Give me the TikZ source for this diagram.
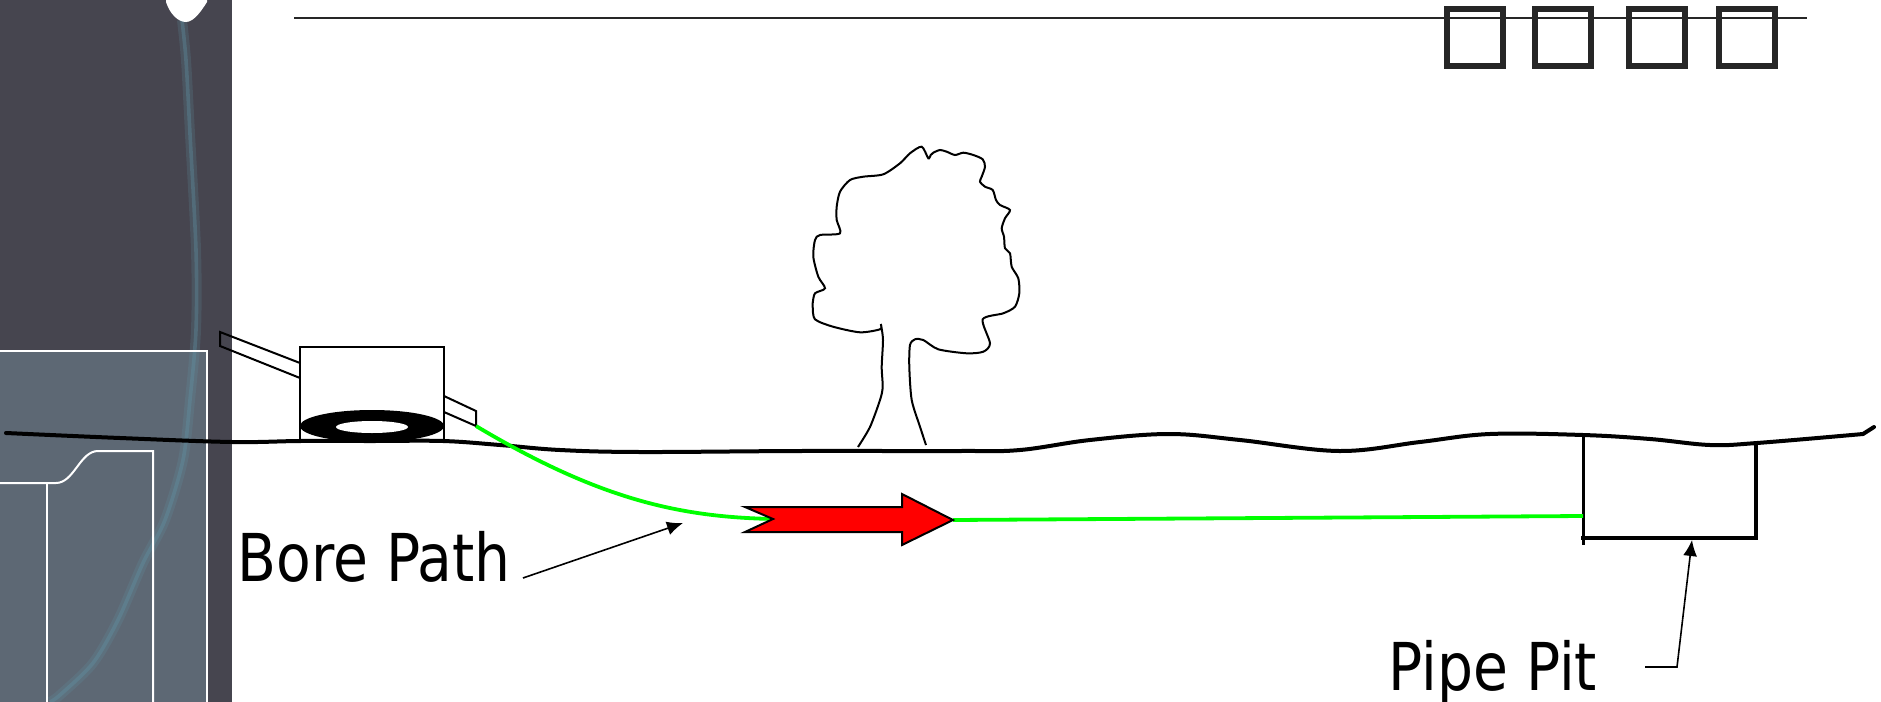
\documentclass[tikz,border=0pt]{standalone}
\usepackage{fontspec}
\usepackage{tikz}
\usetikzlibrary{arrows.meta}
\newfontfamily\labelfont[FakeStretch=0.86]{DejaVu Sans}
\definecolor{panelbg}{RGB}{70,69,79}
\definecolor{panelbox}{RGB}{93,104,116}
\definecolor{glow}{RGB}{96,150,168}
\definecolor{borecol}{RGB}{0,255,0}
\tikzset{%
    lbl/.style={inner sep=0pt,anchor=base west,font=\labelfont\fontsize{33}{40}\selectfont}
}

\begin{document}
\begin{tikzpicture}[
                x=0.5pt, y=-0.5pt,
                ground/.style={line width=2pt,line cap=round},
                rig/.style={line width=1pt},
                bore/.style={borecol,line width=1.9pt},
                lead/.style={line width=0.8pt,-{Latex[length=8pt,width=7pt]}},
                sq/.style={black!85,line width=2.6pt},
                wline/.style={white,line width=1pt}
            ]
            \useasboundingbox (0,0) rectangle (1881,702);

            % side panel
            \fill[panelbg] (0,0) rectangle (232,702);
            \fill[panelbox] (0,351) rectangle (207,702);
            \draw[glow,opacity=0.2,line width=5pt] plot[smooth] coordinates
                {(182,20) (186,60) (190,134) (196,250) (196,330) (190,400) (183,460)
                 (165,520) (143,563) (118,620) (93,663) (60,695) (50,702)};
            \draw[glow,opacity=0.35,line width=1.8pt] plot[smooth] coordinates
                {(182,20) (186,60) (190,134) (196,250) (196,330) (190,400) (183,460)
                 (165,520) (143,563) (118,620) (93,663) (60,695) (50,702)};
            \fill[white] (166,-2) -- (166,2) .. controls (170,14) and (178,22) .. (186,22)
                .. controls (194,22) and (202,10) .. (207,2) -- (207,-2) -- cycle;
            \draw[wline] (0,351) -- (207,351) -- (207,702);
            \draw[wline] (0,483) -- (56,483) .. controls (74,483) and (80,451) .. (98,451)
                -- (153,451) -- (153,702);
            \draw[wline] (47,483) -- (47,702);

            % top rule and boxes
            \draw[black!85,line width=1pt] (294,18) -- (1807,18);
            \foreach \x in {1447,1535,1629,1719}
                \draw[sq] (\x,9) rectangle ++(56,57);

            % ground surface
            \draw[ground] plot[smooth,tension=0.6] coordinates
                {(6,433) (120,438) (232,442) (300,441) (372,441) (443,441) (500,445)
                 (560,450) (640,452) (800,451) (960,451) (1020,450) (1090,440)
                 (1169,434) (1240,440) (1339,451) (1420,442) (1490,434) (1583,435)
                 (1650,439) (1710,445) (1757,443) (1863,434)}
                -- (1874,427);

            % drill rig
            \draw[rig] (300,442) -- (300,347) -- (444,347) -- (444,443);
            \draw[rig] (300,363) -- (220,332) -- (220,346) -- (300,378);
            \draw[rig] (444,396) -- (476,411) -- (476,426) -- (444,412);
            \fill[black] (372,426) ellipse [x radius=72,y radius=16];
            \fill[white] (372,427) ellipse [x radius=36,y radius=6];

            % tree
            \draw[line width=1pt] plot[smooth,tension=0.45] coordinates
                {(858,447) (870,427) (880,400) (882.7,387) (881.7,367) (883,340) (881,325)
                 (880,329.3) (860,332.3) (833,326.7) (815,319.3) (812.7,306.7)
                 (812.7,303) (815,293.3) (825,288.3) (818.3,276.7) (813.3,256.7)
                 (815,240) (820,235) (840,233.3) (836.7,220) (836.7,206.7) (840,191.7)
                 (850,180) (863.3,176.7) (883.3,174.3) (900,163.3) (910,153.3)
                 (921.7,146.7) (928.3,158.3) (930.7,155) (933.3,152.7) (940,150)
                 (946.7,151.7) (955,155) (963.3,152.7) (973.3,155) (982.7,159.3)
                 (985,166.7) (981.7,176.7) (980,181.7) (985,186.7) (992.7,190)
                 (996,200) (1000,205) (1010,210) (1005,218.3) (1001.7,228.3)
                 (1004,236.7) (1005,248.3) (1010,253.3) (1011.7,266.7) (1018.3,278.3)
                 (1019.3,293.3) (1015,306.7) (1003.3,313.3) (982.7,319.3)
                 (990,343.3) (983.3,351.7) (966.7,353.3) (938.3,349.3) (923.3,340)
                 (915,339.3) (910,345) (909.3,366.7) (911.7,400) (920,426.7) (926,445)};

            % pit
            \draw[line width=1.5pt] (1583,435) -- (1583,545);
            \draw[line width=2pt] (1581,538) -- (1756,538) -- (1756,443);

            % bore path with the reamer
            \coordinate (rodend) at (476,426);
            \coordinate (tail) at (773,519);
            \coordinate (tip) at (953,520);
            \coordinate (pitwall) at (1583,516);
            \draw[bore] (rodend) .. controls (600,500) and (680,517) .. (tail);
            \draw[bore] (tip) -- (pitwall);
            \filldraw[fill=red,draw=black,line width=1pt,line join=miter]
                (745,507) -- (902,507) -- (902,494) -- (tip) -- (902,545)
                -- (902,532) -- (745,532) -- (tail) -- cycle;

            % labels
            \node[lbl] (borelbl) at (237,581) {Bore Path};
            \node[lbl] (pitlbl) at (1388,690) {Pipe Pit};
            \coordinate (borefrom) at (523,578);
            \coordinate (boreto) at (683,523);
            \coordinate (pitfrom) at (1645,667);
            \coordinate (pitbend) at (1677,667);
            \coordinate (pitto) at (1692,540);
            \draw[lead] (borefrom) -- (boreto);
            \draw[lead] (pitfrom) -- (pitbend) -- (pitto);
        \end{tikzpicture}
\end{document}
